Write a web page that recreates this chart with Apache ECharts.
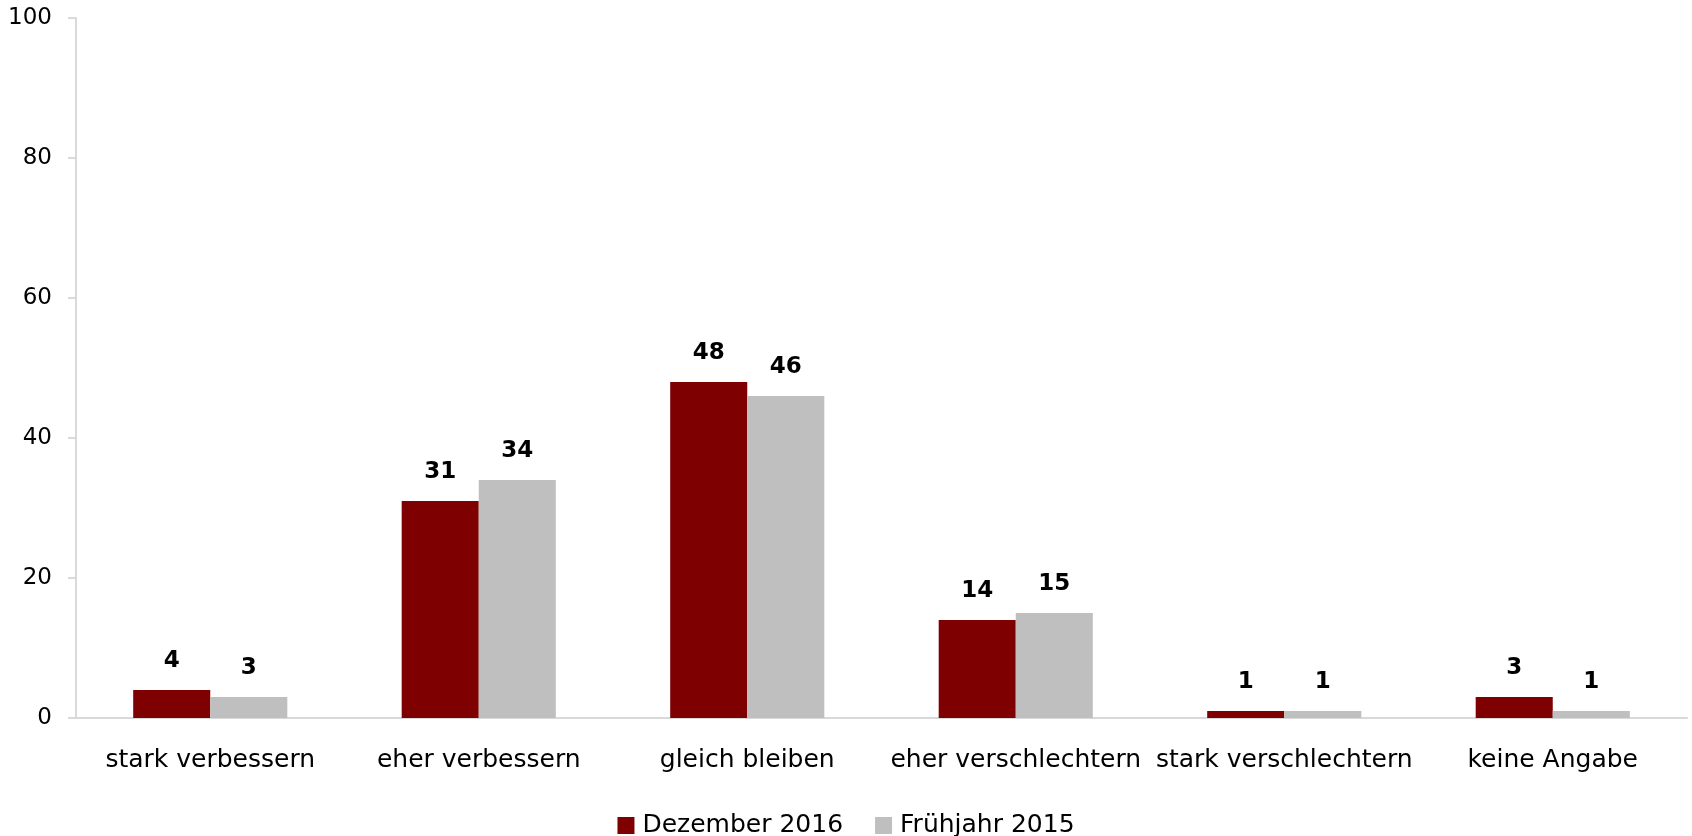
<!DOCTYPE html>
<html>
<head>
<meta charset="utf-8">
<script src="https://cdn.jsdelivr.net/npm/echarts@6/dist/echarts.min.js"></script>
<style>
  html, body { margin: 0; padding: 0; background: #fff; }
  #chart { width: 1692px; height: 836px; }
</style>
</head>
<body>
<div id="chart"></div>
<script>
  var categories = ['stark verbessern', 'eher verbessern', 'gleich bleiben', 'eher verschlechtern', 'stark verschlechtern', 'keine Angabe']
  var dez2016 = [4, 31, 48, 14, 1, 3]
  var fruehjahr2015 = [3, 34, 46, 15, 1, 1]
  var seriesNames = ['Dezember 2016', 'Frühjahr 2015']

  var fontFamily = '"DejaVu Sans", sans-serif'
  var chart = echarts.init(document.getElementById('chart'))

  var labelStyle = {
    show: true,
    position: 'top',
    distance: 17,
    color: '#000',
    fontWeight: 'bold',
    fontSize: 23,
    fontFamily: fontFamily
  }

  var option = {
    animation: false,
    grid: { left: 76, right: 5, top: 18, bottom: 118 },
    legend: {
      top: 808,
      left: 'center',
      itemWidth: 17,
      itemHeight: 17,
      itemGap: 32,
      icon: 'rect',
      textStyle: { fontSize: 25, color: '#000', fontFamily: fontFamily, padding: [0, 0, 0, 3] },
      data: seriesNames
    },
    xAxis: {
      type: 'category',
      data: categories,
      axisLine: { lineStyle: { color: '#d9d9d9', width: 2 } },
      axisTick: { show: false },
      axisLabel: { color: '#000', fontSize: 25, fontFamily: fontFamily, margin: 30, interval: 0 }
    },
    yAxis: {
      type: 'value',
      min: 0,
      max: 100,
      interval: 20,
      splitLine: { show: false },
      axisLine: { show: true, lineStyle: { color: '#d9d9d9', width: 2 } },
      axisTick: { show: true, length: 8, lineStyle: { color: '#d9d9d9', width: 2 } },
      axisLabel: { color: '#000', fontSize: 23, fontFamily: fontFamily, margin: 24 }
    },
    series: [
      {
        name: seriesNames[0],
        type: 'bar',
        data: dez2016,
        barGap: '0%',
        barCategoryGap: '42.6%',
        itemStyle: { color: '#7f0000' },
        label: labelStyle
      },
      {
        name: seriesNames[1],
        type: 'bar',
        data: fruehjahr2015,
        itemStyle: { color: '#bfbfbf' },
        label: labelStyle
      }
    ]
  }

  chart.setOption(option)
</script>
</body>
</html>
